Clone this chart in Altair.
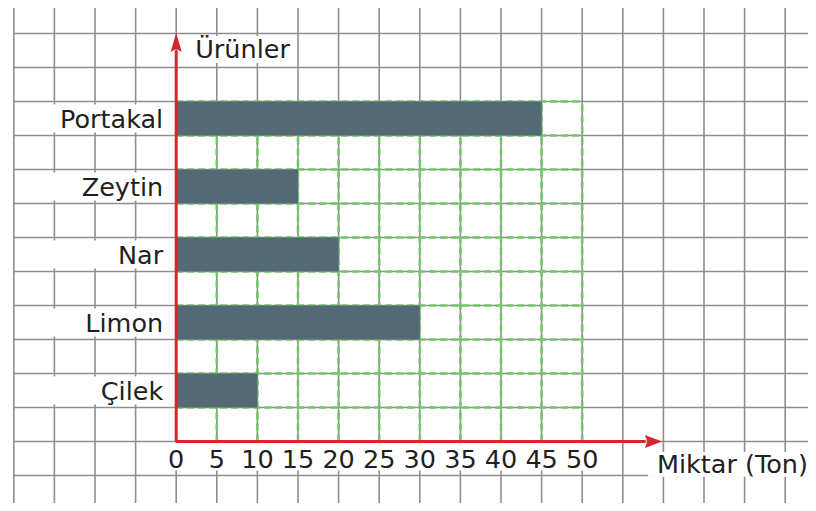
import altair as alt
import pandas as pd

# ---- data ----
categories = ["Portakal", "Zeytin", "Nar", "Limon", "Çilek"]
values = [45, 15, 20, 30, 10]
x_ticks = [0, 5, 10, 15, 20, 25, 30, 35, 40, 45, 50]
x_title = "Miktar (Ton)"
y_title = "Ürünler"

# ---- layout (data units: x in tons, y in grid rows) ----
XMIN, XMAX = -20.714, 77.808
YMIN, YMAX = -1.809, 12.75
FONT = "DejaVu Sans"
FS = 25.5
TXT = "#231f20"

xs = alt.Scale(domain=[XMIN, XMAX], nice=False, zero=False)
ys = alt.Scale(domain=[YMIN, YMAX], nice=False, zero=False)

n = len(categories)
bars = pd.DataFrame({
    "cat": categories,
    "val": values,
    "top": [2 * n - 2 * i for i in range(n)],
    "bot": [2 * n - 2 * i - 1 for i in range(n)],
    "mid": [2 * n - 2 * i - 0.5 for i in range(n)],
})

# grid paper
vgrid = pd.DataFrame({"v": list(range(-20, 80, 5))})
hgrid = pd.DataFrame({"u": list(range(-1, 13)), "x0": -20, "x1": XMAX})

paper_v = alt.Chart(vgrid).mark_rule(color="#8e8e8e", strokeWidth=1.6).encode(
    x=alt.X("v:Q", scale=xs, axis=None))
paper_h = alt.Chart(hgrid).mark_rule(color="#8e8e8e", strokeWidth=1.6).encode(
    y=alt.Y("u:Q", scale=ys, axis=None),
    x=alt.X("x0:Q", scale=xs, axis=None), x2="x1:Q")

# white label boxes
boxes = pd.DataFrame({
    "x0": [-19.8] * n + [-1.4, 0.73, 58.1],
    "x1": [-0.7] * n + [51.8, 14.3, XMAX],
    "y0": [m - 0.41 for m in bars["mid"]] + [-0.05, 11.13, -0.31],
    "y1": [m + 0.41 for m in bars["mid"]] + [-0.85, 11.93, -1.04],
})
white = alt.Chart(boxes).mark_rect(color="white").encode(
    x=alt.X("x0:Q", scale=xs, axis=None), x2="x1:Q",
    y=alt.Y("y0:Q", scale=ys, axis=None), y2="y1:Q")

# green dashed grid
gv = pd.DataFrame({"v": x_ticks[1:], "y0": 0, "y1": 2 * n})
gh = pd.DataFrame({"u": list(range(1, 2 * n + 1)), "x0": 0, "x1": x_ticks[-1]})
green_v = alt.Chart(gv).mark_rule(color="#74c66a", strokeWidth=2.6, strokeDash=[7, 4]).encode(
    x=alt.X("v:Q", scale=xs, axis=None),
    y=alt.Y("y0:Q", scale=ys, axis=None), y2="y1:Q")
green_h = alt.Chart(gh).mark_rule(color="#74c66a", strokeWidth=2.6, strokeDash=[7, 4]).encode(
    y=alt.Y("u:Q", scale=ys, axis=None),
    x=alt.X("x0:Q", scale=xs, axis=None), x2="x1:Q")

# bars
bar = alt.Chart(bars).mark_rect(color="#536976").encode(
    x=alt.X("zero:Q", scale=xs, axis=None), x2="val:Q",
    y=alt.Y("top:Q", scale=ys, axis=None), y2="bot:Q",
).transform_calculate(zero="0")

# red axes
axes_df = pd.DataFrame({"x0": [0, 0], "x1": [0, 57.8], "y0": [0, 0], "y1": [11.5, 0]})
red_axes = alt.Chart(axes_df).mark_rule(color="#d4262d", strokeWidth=3).encode(
    x=alt.X("x0:Q", scale=xs, axis=None), x2="x1:Q",
    y=alt.Y("y0:Q", scale=ys, axis=None), y2="y1:Q")

up = alt.Chart(pd.DataFrame({"x": [0], "y": [11.73]})).mark_point(
    shape="M0,-1L0.55,0.9L0,0.62L-0.55,0.9Z", size=400, filled=True,
    color="#d4262d", opacity=1, strokeWidth=0).encode(
    x=alt.X("x:Q", scale=xs, axis=None), y=alt.Y("y:Q", scale=ys, axis=None))
right = alt.Chart(pd.DataFrame({"x": [58.72], "y": [0]})).mark_point(
    shape="M1,0L-0.9,0.72L-0.62,0L-0.9,-0.72Z", size=324, filled=True,
    color="#d4262d", opacity=1, strokeWidth=0).encode(
    x=alt.X("x:Q", scale=xs, axis=None), y=alt.Y("y:Q", scale=ys, axis=None))

# texts
cat_text = alt.Chart(bars).mark_text(
    align="right", baseline="alphabetic", dy=9.5, font=FONT, fontSize=FS, color=TXT).encode(
    x=alt.X("lx:Q", scale=xs, axis=None), y=alt.Y("mid:Q", scale=ys, axis=None),
    text="cat:N").transform_calculate(lx="-1.6")

tick_df = pd.DataFrame({"t": x_ticks, "lab": [str(t) for t in x_ticks], "y": -0.79})
tick_text = alt.Chart(tick_df).mark_text(
    align="center", baseline="alphabetic", font=FONT, fontSize=FS, color=TXT).encode(
    x=alt.X("t:Q", scale=xs, axis=None), y=alt.Y("y:Q", scale=ys, axis=None),
    text="lab:N")

titles = pd.DataFrame({"x": [2.34, 59.2], "y": [11.28, -0.93], "lab": [y_title, x_title]})
title_text = alt.Chart(titles).mark_text(
    align="left", baseline="alphabetic", font=FONT, fontSize=FS, color=TXT).encode(
    x=alt.X("x:Q", scale=xs, axis=None), y=alt.Y("y:Q", scale=ys, axis=None),
    text="lab:N")

chart = alt.layer(
    paper_v, paper_h, green_v, green_h, white, bar, red_axes, up, right,
    cat_text, tick_text, title_text,
).resolve_scale(x="shared", y="shared").properties(
    width=800, height=495, padding=0,
    autosize=alt.AutoSizeParams(type="none"),
).configure_view(stroke=None)

chart.save("out.html", embed_options={"renderer": "svg", "actions": False})
